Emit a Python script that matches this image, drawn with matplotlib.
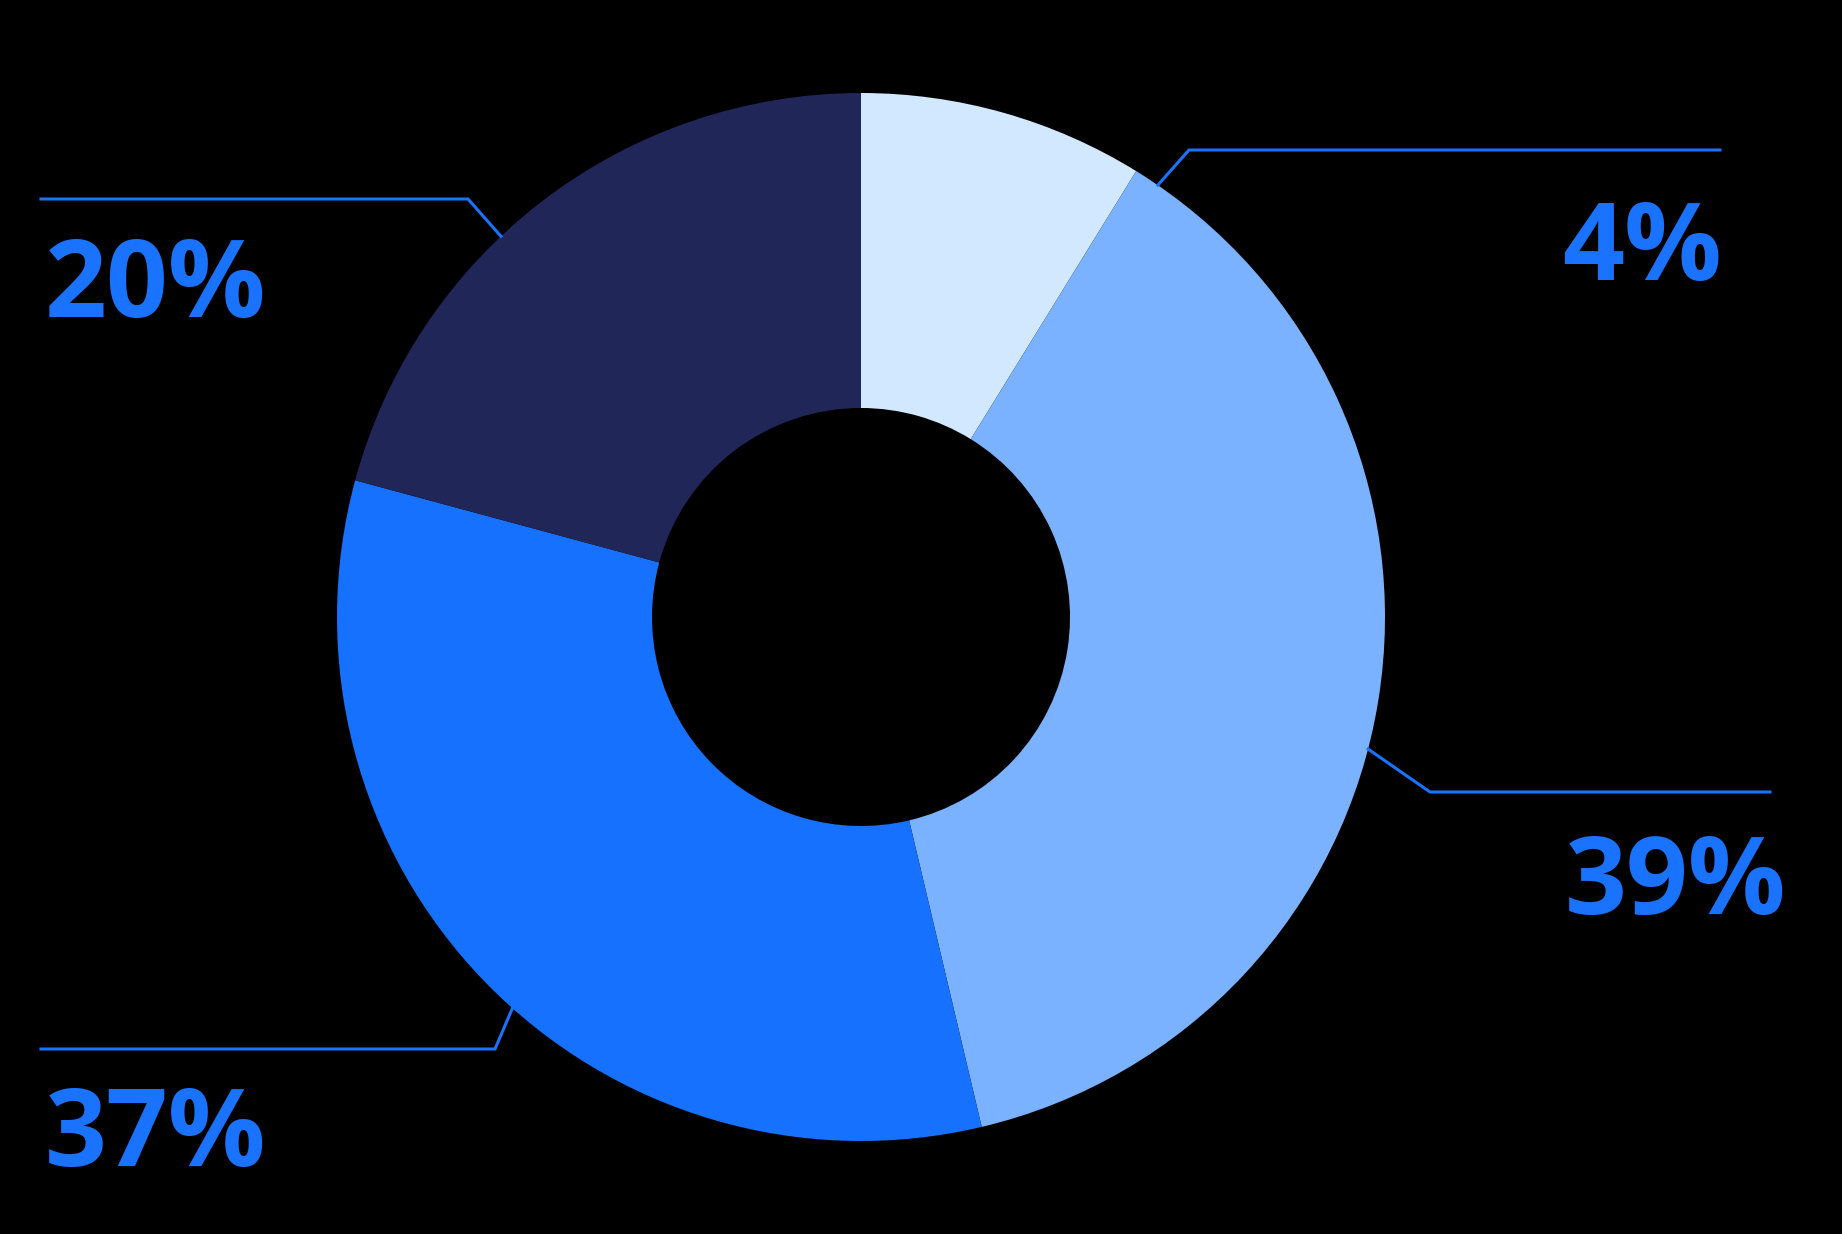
import matplotlib
matplotlib.use('Agg')
import matplotlib.pyplot as plt
import numpy as np

# slice sizes, labels as printed on the chart
values = [8.8, 37.5, 32.9, 20.8]
labels = ["4%", "39%", "37%", "20%"]
colors = ["#D2E8FF", "#7BB2FF", "#1671FF", "#212659"]

# leader lines: angle on the outer edge (deg), elbow and end (pixels, top-left origin)
lead_angle = [55.5, -14.6, 228.3, 133.4]
lead_elbow = [(1189, 150), (1430, 792), (495, 1049), (468, 199)]
lead_end = [(1720, 150), (1770, 792), (41, 1049), (41, 199)]
text_pos = [(1562, 280), (1565, 914), (45, 1166), (45, 317)]

W, H = 1842, 1234
cx, cy, R, r = 861, 617, 524, 209
blue = "#1A73FF"

fig = plt.figure(figsize=(W / 100, H / 100), dpi=100, facecolor="black")
ax = fig.add_axes([0, 0, 1, 1])
ax.set_facecolor("black")
ax.axis("off")

ax.pie(values, colors=colors, startangle=90, counterclock=False,
       center=(cx, H - cy), radius=R,
       wedgeprops=dict(width=R - r, linewidth=0))
ax.set_xlim(0, W)
ax.set_ylim(0, H)
ax.set_aspect("equal")

for ang, elb, end, tp, lab in zip(lead_angle, lead_elbow, lead_end, text_pos, labels):
    a = np.radians(ang)
    x0 = cx + R * np.cos(a)
    y0 = (H - cy) + R * np.sin(a)
    ax.plot([x0, elb[0], end[0]], [y0, H - elb[1], H - end[1]],
            color=blue, lw=2.2, solid_joinstyle="miter")
    ax.text(tp[0], H - tp[1], lab, color=blue, fontsize=78,
            family="Open Sans", weight="bold", ha="left", va="baseline")

fig.savefig("out.png", dpi=100, facecolor="black")
